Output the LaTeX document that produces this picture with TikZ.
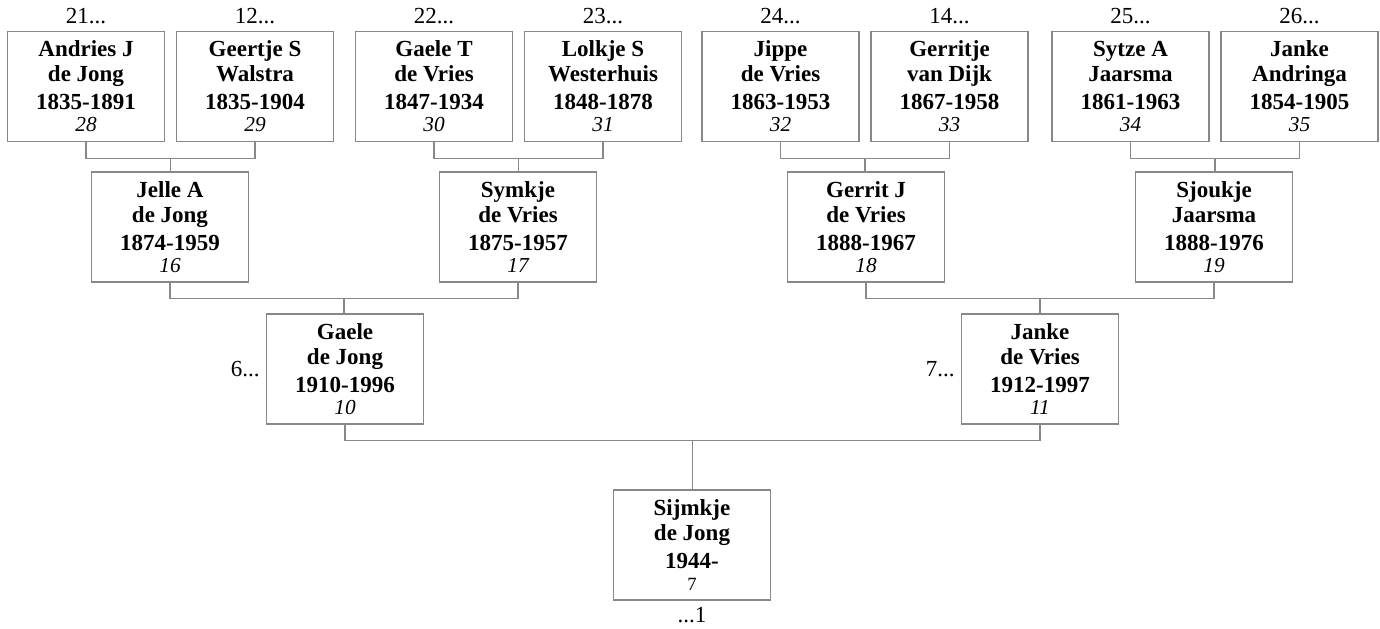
\documentclass[tikz,border=0pt]{standalone}
\usepackage{fontspec}
\setmainfont{Liberation Serif}
\usetikzlibrary{positioning, calc}
\definecolor{boxgray}{HTML}{888888}
\tikzset{
  person/.style={draw=boxgray, line width=1pt, fill=white, minimum width=117.75pt,
    minimum height=82.5pt, inner sep=0pt, align=center,
    font=\fontsize{17.25}{18.75}\selectfont\bfseries},
  tag/.style={inner sep=0pt, font=\fontsize{17.25}{18.75}\selectfont},
  link/.style={draw=boxgray, line width=1pt},
}
\newcommand\gennum[1]{\\[-2.25pt]{\fontsize{16}{16}\selectfont\mdseries\itshape #1}}

\begin{document}
\begin{tikzpicture}[x=0.75pt, y=-0.75pt]
  \useasboundingbox (0,0) rectangle (1380,628);
  % --- great-grandparents (top row) with their tags above ---
  \foreach \id/\x/\na/\nb/\yr/\tg in {%
      28/86/Andries J/de Jong/1835-1891/21,
      29/255/Geertje S/Walstra/1835-1904/12,
      30/434/Gaele T/de Vries/1847-1934/22,
      31/603/Lolkje S/Westerhuis/1848-1878/23,
      32/780.5/Jippe/de Vries/1863-1953/24,
      33/949.5/Gerritje/van Dijk/1867-1958/14,
      34/1130.5/Sytze A/Jaarsma/1861-1963/25,
      35/1299.5/Janke/Andringa/1854-1905/26}{
    \node[person] (p\id) at (\x,86.5) {\na\\\nb\\[2.25pt]\yr\gennum{\id}};
    \node[tag, anchor=base] (t\id) at ([yshift=5.25pt]p\id.north) {\tg...};
  }
  % --- grandparents ---
  \foreach \id/\x/\na/\nb/\yr in {%
      16/170/Jelle A/de Jong/1874-1959,
      17/518/Symkje/de Vries/1875-1957,
      18/866/Gerrit J/de Vries/1888-1967,
      19/1214/Sjoukje/Jaarsma/1888-1976}
    \node[person] (p\id) at (\x,227) {\na\\\nb\\[2.25pt]\yr\gennum{\id}};
  % --- parents, tagged on the left ---
  \foreach \id/\x/\na/\nb/\yr/\tg in {%
      10/345/Gaele/de Jong/1910-1996/6,
      11/1040/Janke/de Vries/1912-1997/7}{
    \node[person] (p\id) at (\x,369) {\na\\\nb\\[2.25pt]\yr\gennum{\id}};
    \node[tag, left=4.5pt of p\id] (t\id) {\tg...};
  }
  % --- root person ---
  \node[person] (p7) at (692,545)
    {Sijmkje\\de Jong\\[2.25pt]1944-\\[-2.25pt]{\fontsize{14}{14}\selectfont\mdseries 7}};
  \node[tag, below=5pt of p7] (t7) {...1};
  % --- brackets: parents joined, then dropped to the child ---
  \foreach \kid/\pa/\ma in {16/28/29, 17/30/31, 18/32/33, 19/34/35,
                             10/16/17, 11/18/19, 7/10/11}{
    \coordinate (j\kid) at ($(p\pa.south)!0.5!(p\ma.south)+(0,16)$);
    \draw[link] (p\pa.south) |- (j\kid) -| (p\ma.south);
    \draw[link] (j\kid) -- (j\kid |- p\kid.north);
  }
\end{tikzpicture}
\end{document}
